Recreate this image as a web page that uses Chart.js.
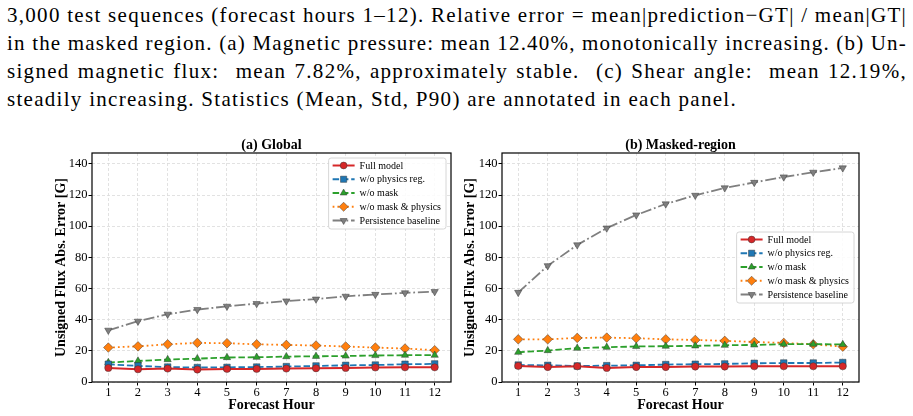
<!DOCTYPE html>
<html>
<head>
<meta charset="utf-8">
<script src="https://cdn.jsdelivr.net/npm/chart.js@4.4.1/dist/chart.umd.min.js"></script>
<style>
  html, body { margin: 0; padding: 0; background: #fff; }
  body { width: 913px; height: 416px; position: relative; overflow: hidden; }
  #caption {
    position: absolute; left: 7px; top: 1px; width: 900px;
    font-family: "Liberation Serif", "Times New Roman", serif;
    font-size: 21px; line-height: 28px; color: #000;
  }
  #caption div { white-space: nowrap; text-align: left; }
  #caption div.just { text-align: justify; text-align-last: justify; }
  #panelA { position: absolute; left: 0; top: 130px; }
  #panelB { position: absolute; left: 460px; top: 130px; }
</style>
</head>
<body>
<div id="caption">
  <div>3,000 test sequences (forecast hours 1–12). Relative error = mean|prediction−GT| / mean|GT|</div>
  <div>in the masked region. (a) Magnetic pressure: mean 12.40%, monotonically increasing. (b) Un-</div>
  <div>signed magnetic flux:&nbsp; mean 7.82%, approximately stable.&nbsp; (c) Shear angle:&nbsp; mean 12.19%,</div>
  <div>steadily increasing. Statistics (Mean, Std, P90) are annotated in each panel.</div>
</div>
<canvas id="panelA" width="460" height="286"></canvas>
<canvas id="panelB" width="453" height="286"></canvas>
<script>
// ======= Data =======
const hours = [1, 2, 3, 4, 5, 6, 7, 8, 9, 10, 11, 12];

// (a) Global
const globalFull       = [9.0, 8.2, 8.6, 8.0, 8.4, 8.4, 8.6, 8.8, 9.0, 9.3, 9.4, 9.4];
const globalNoPhysics  = [11.4, 10.3, 9.6, 9.3, 9.4, 9.6, 9.9, 10.3, 10.7, 10.9, 11.4, 11.6];
const globalNoMask     = [12.5, 13.5, 14.4, 15.0, 15.7, 15.9, 16.3, 16.5, 16.7, 17.0, 17.2, 17.2];
const globalNoMaskPhys = [22.1, 22.9, 24.2, 25.1, 24.9, 24.2, 23.8, 23.4, 22.8, 22.1, 21.5, 20.4];
const globalPersist    = [33.2, 39.0, 43.5, 46.5, 48.6, 50.3, 52.0, 53.2, 55.0, 56.2, 57.2, 58.0];

// (b) Masked-region
const maskedFull       = [10.3, 9.6, 10.1, 9.0, 9.6, 9.6, 9.9, 9.9, 10.1, 10.1, 10.1, 10.1];
const maskedNoPhysics  = [10.9, 10.7, 10.3, 10.5, 10.7, 11.2, 11.4, 11.6, 12.0, 12.2, 12.2, 12.5];
const maskedNoMask     = [19.1, 20.2, 21.7, 22.3, 22.8, 23.0, 23.2, 23.6, 23.8, 24.3, 24.3, 24.1];
const maskedNoMaskPhys = [27.4, 27.4, 28.3, 28.5, 28.1, 27.4, 27.0, 26.4, 25.7, 25.1, 24.2, 22.7];
const maskedPersist    = [57.5, 74.6, 88.0, 98.8, 107.2, 114.3, 119.8, 124.6, 128.1, 131.6, 134.6, 137.4];

const seriesLabels = ["Full model", "w/o physics reg.", "w/o mask", "w/o mask & physics", "Persistence baseline"];

// ======= Styles =======
const FONT = '"Liberation Serif", "Times New Roman", serif';
const seriesColors  = ["#d62728", "#1f77b4", "#2ca02c", "#ff7f0e", "#7f7f7f"];
const seriesDashes  = [[], [6.5, 2.8], [6.5, 2.8], [1.8, 3], [11, 2.8, 1.8, 2.8]];
const seriesMarkers = ["circle", "rect", "triangle", "rectRot", "triangle"];
const seriesRadius  = [3.6, 4.6, 4.2, 4.8, 4.2];
const seriesRotate  = [0, 0, 0, 0, 180];

// ======= Caption: stretch Times to the wider LaTeX line widths =======
const captionWidths = [900, 900, 900, 730];
document.querySelectorAll("#caption div").forEach((el, i) => {
  const span = document.createElement("span");
  span.textContent = el.textContent;
  el.textContent = "";
  el.appendChild(span);
  const natural = span.getBoundingClientRect().width;
  const n = span.textContent.length;
  let ls = (captionWidths[i] - natural) / n;
  if (i < 3) ls = Math.min(ls, 1.3);
  el.style.letterSpacing = Math.max(ls, 0) + "px";
  if (i < 3) el.classList.add("just");
});

function buildDatasets(values) {
  return values.map((vals, i) => ({
    label: seriesLabels[i],
    data: hours.map((h, k) => ({ x: h, y: vals[k] })),
    borderColor: seriesColors[i],
    backgroundColor: seriesColors[i],
    borderWidth: i === 0 ? 2 : 1.8,
    borderDash: seriesDashes[i],
    pointStyle: seriesMarkers[i],
    pointRadius: seriesRadius[i],
    pointRotation: seriesRotate[i],
    pointBackgroundColor: seriesColors[i],
    pointBorderColor: "rgba(50,50,50,0.8)",
    pointBorderWidth: 0.6,
    tension: 0
  }));
}

// ======= Plugins =======
function drawLegend(chart, where) {
  const ctx = chart.ctx, area = chart.chartArea;
  const sets = chart.data.datasets;
  ctx.save();
  ctx.font = "10px " + FONT;
  const textW = Math.max(...sets.map(d => ctx.measureText(d.label).width));
  const w = 31 + textW + 5, h = 71, rowH = 13.75;
  const x = area.right - 5 - w;
  const y = where === "upper right" ? area.top + 5 : (area.top + area.bottom) / 2 - h / 2;

  ctx.beginPath();
  ctx.roundRect(x, y, w, h, 2.5);
  ctx.fillStyle = "rgba(255,255,255,0.85)";
  ctx.fill();
  ctx.strokeStyle = "#cccccc";
  ctx.lineWidth = 0.8;
  ctx.stroke();

  sets.forEach((d, i) => {
    const cy = y + 7.5 + i * rowH;
    ctx.setLineDash(d.borderDash);
    ctx.strokeStyle = d.borderColor;
    ctx.lineWidth = d.borderWidth;
    ctx.beginPath();
    ctx.moveTo(x + 4, cy);
    ctx.lineTo(x + 26, cy);
    ctx.stroke();
    ctx.setLineDash([]);
    ctx.fillStyle = d.pointBackgroundColor;
    ctx.strokeStyle = d.pointBorderColor;
    ctx.lineWidth = d.pointBorderWidth;
    Chart.helpers.drawPoint(ctx, {
      pointStyle: d.pointStyle, radius: d.pointRadius * 0.95,
      rotation: d.pointRotation, borderWidth: d.pointBorderWidth
    }, x + 15, cy);
    ctx.fillStyle = "#000";
    ctx.textBaseline = "middle";
    ctx.textAlign = "left";
    ctx.fillText(d.label, x + 31, cy + 0.5);
  });
  ctx.restore();
}

const panelDecor = {
  id: "panelDecor",
  afterDraw(chart, args, opts) {
    const ctx = chart.ctx, area = chart.chartArea;
    ctx.save();
    ctx.strokeStyle = "#000";
    ctx.lineWidth = 1.2;
    ctx.strokeRect(area.left, area.top, area.right - area.left, area.bottom - area.top);
    ctx.fillStyle = "#000";
    ctx.font = "bold 14px " + FONT;
    ctx.textAlign = "center";
    ctx.textBaseline = "middle";
    ctx.fillText(opts.title, (area.left + area.right) / 2, area.top - 8);
    ctx.restore();
    drawLegend(chart, opts.legend);
  }
};

// ======= Charts =======
function makePanel(canvasId, title, values, legendWhere, padLeft, yWidth, padRight) {
  const tickFont = { family: FONT, size: 12.5 };
  const titleFont = { family: FONT, size: 14, weight: "bold" };
  return new Chart(document.getElementById(canvasId), {
    type: "line",
    data: { datasets: buildDatasets(values) },
    options: {
      responsive: false,
      animation: false,
      layout: { padding: { left: padLeft, right: padRight, top: 23, bottom: 0 } },
      plugins: {
        legend: { display: false },
        tooltip: { enabled: false },
        panelDecor: { title: title, legend: legendWhere }
      },
      scales: {
        x: {
          type: "linear",
          min: 0.45,
          max: 12.55,
          ticks: { stepSize: 1, includeBounds: false, font: tickFont, color: "#000", padding: 0, maxRotation: 0 },
          grid: { color: "#dadada", lineWidth: 0.8, tickLength: 3.5, tickColor: "#000", tickWidth: 1 },
          border: { display: false, dash: [3, 2] },
          title: { display: true, text: "Forecast Hour", font: titleFont, color: "#000", padding: { top: 0, bottom: 2 } },
          afterFit: s => { s.height = 34; s.paddingLeft = 0; s.paddingRight = 0; }
        },
        y: {
          min: 0,
          max: 147,
          ticks: { stepSize: 20, includeBounds: false, font: tickFont, color: "#000", padding: 1 },
          grid: { color: "#dadada", lineWidth: 0.8, tickLength: 3.5, tickColor: "#000", tickWidth: 1 },
          border: { display: false, dash: [3, 2] },
          title: { display: true, text: "Unsigned Flux Abs. Error [G]", font: titleFont, color: "#000", padding: { top: 0, bottom: 0 } },
          afterFit: s => { s.width = yWidth; s.paddingTop = 0; s.paddingBottom = 0; }
        }
      }
    },
    plugins: [panelDecor]
  });
}

makePanel("panelA", "(a) Global",
  [globalFull, globalNoPhysics, globalNoMask, globalNoMaskPhys, globalPersist],
  "upper right", 53, 39, 9);
makePanel("panelB", "(b) Masked-region",
  [maskedFull, maskedNoPhysics, maskedNoMask, maskedNoMaskPhys, maskedPersist],
  "center right", 2, 40, 54);
</script>
</body>
</html>
